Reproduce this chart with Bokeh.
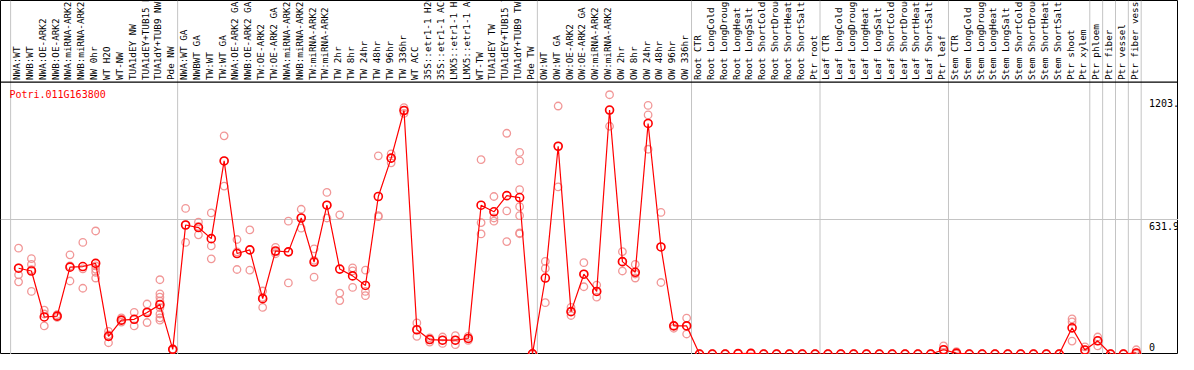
import math
from bokeh.plotting import figure
from bokeh.models import Range1d, Span, Label, ColumnDataSource
from bokeh.core.properties import value
from bokeh.embed import file_html
from bokeh.resources import INLINE

gene = "Potri.011G163800"

categories = [
    "NWA:WT", "NWB:WT", "NWA:OE-ARK2", "NWB:OE-ARK2", "NWA:miRNA-ARK2", "NWB:miRNA-ARK2",
    "NW 0hr", "WT H2O", "WT-NW", "TUA1dEY NW", "TUA1dEY+TUB15 NW", "TUA1dY+TUB9 NW", "Pde NW",
    "NWA:WT GA", "NWBWT GA", "TW:WT", "TW:WT GA", "NWA:OE-ARK2 GA", "NWB:OE-ARK2 GA",
    "TW:OE-ARK2", "TW:OE-ARK2 GA", "NWA:miRNA-ARK2", "NWB:miRNA-ARK2", "TW:miRNA-ARK2",
    "TW:miRNA-ARK2", "TW 2hr", "TW 8hr", "TW 24hr", "TW 48hr", "TW 96hr", "TW 336hr",
    "WT ACC", "35S::etr1-1 H2O", "35S::etr1-1 ACC", "LMX5::etr1-1 H2O", "LMX5::etr1-1 ACC",
    "WT-TW", "TUA1dEY TW", "TUA1dEY+TUB15 TW", "TUA1dY+TUB9 TW", "Pde TW",
    "OW:WT", "OW:WT GA", "OW:OE-ARK2", "OW:OE-ARK2 GA", "OW:miRNA-ARK2", "OW:miRNA-ARK2",
    "OW 2hr", "OW 8hr", "OW 24hr", "OW 48hr", "OW 96hr", "OW 336hr",
    "Root CTR", "Root LongCold", "Root LongDrought", "Root LongHeat", "Root LongSalt",
    "Root ShortCold", "Root ShortDrought", "Root ShortHeat", "Root ShortSalt", "Ptr root",
    "Leaf CTR", "Leaf LongCold", "Leaf LongDrought", "Leaf LongHeat", "Leaf LongSalt",
    "Leaf ShortCold", "Leaf ShortDrought", "Leaf ShortHeat", "Leaf ShortSalt", "Ptr leaf",
    "Stem CTR", "Stem LongCold", "Stem LongDrought", "Stem LongHeat", "Stem LongSalt",
    "Stem ShortCold", "Stem ShortDrought", "Stem ShortHeat", "Stem ShortSalt", "Ptr shoot",
    "Ptr xylem",
    "Ptr phloem", "Ptr fiber", "Ptr vessel", "Ptr fiber vessel",
]

means = [
    403, 390, 174, 178, 408, 411, 426, 83, 159, 163, 195, 232, 22,
    606, 594, 542, 907, 472, 489, 260, 484, 480, 639, 432, 699, 399, 367, 322,
    740, 920, 1144, 114, 68, 65, 65, 73, 699, 668, 744, 735, 1,
    357, 976, 199, 375, 294, 1146, 434, 384, 1083, 503, 132, 132,
    0, 0, 0, 2, 3, 0, 0, 0, 0, 0,
    0, 0, 0, 0, 0, 0, 0, 0, 0, 20,
    4, 0, 0, 0, 0, 0, 0, 0, 0, 123, 19,
    62, 0, 0, 5,
]

replicates = [
    [497, 404, 372, 339], [448, 421, 396, 294], [206, 188, 132], [185, 178, 172],
    [466, 414, 343], [524, 400, 309], [578, 414, 399, 384, 357], [106, 90, 53],
    [170, 158, 150], [196, 163, 132], [235, 200, 148],
    [349, 283, 267, 249, 218, 188, 170, 159], [22, 20, 24],
    [684, 606, 524], [620, 600, 560], [663, 508, 447], [1025, 907, 789],
    [538, 480, 397], [583, 489, 394], [296, 266, 219], [501, 480, 471],
    [624, 480, 334], [680, 640, 591], [494, 440, 361], [759, 699, 639],
    [654, 286, 251], [405, 391, 313], [394, 294, 274], [931, 650, 645],
    [940, 920, 898], [1157, 1144, 1130], [146, 113, 83], [76, 68, 56],
    [80, 65, 50], [86, 65, 44], [83, 73, 64], [913, 617, 564], [740, 639, 624],
    [1037, 672, 528], [947, 907, 772, 692, 650, 569, 565], [0, 1, 2],
    [435, 402, 241], [1165, 976, 785], [219, 199, 181], [429, 375, 316],
    [324, 294, 267], [1218, 1146, 1070], [481, 434, 390], [421, 376, 357],
    [1168, 1123, 962], [665, 503, 336], [134, 132, 121], [169, 132, 94],
    [0, 0, 0], [0, 0, 0], [0, 0, 0], [2, 3, 1], [3, 4, 2], [0, 0, 0], [0, 0, 0],
    [0, 0, 0], [0, 0, 0], [0, 0, 0],
    [0, 0, 0], [0, 0, 0], [0, 0, 0], [0, 0, 0], [0, 0, 0], [0, 0, 0], [0, 0, 0],
    [0, 0, 0], [0, 0, 0], [38, 20, 8],
    [11, 4, 0], [0, 0, 0], [0, 0, 0], [0, 0, 0], [0, 0, 0], [0, 0, 0], [0, 0, 0],
    [0, 0, 0], [0, 0, 0], [165, 151, 61], [34, 19, 8],
    [80, 62, 38], [0, 0, 0], [0, 0, 0], [20, 5, 0],
]

group_starts = [0, 13, 41, 53, 63, 73, 84, 85, 86, 87, 88]
y_ticks = [0, 631.9, 1203.4]
y_tick_labels = ["0", "631.9", "1203.4"]

# ---- layout constants ----
W, H = 1178, 354
px_per_unit = 0.2219
ref_h = 369.0
zero_px = 368.5
plot_top = (zero_px - 85) / px_per_unit
y_lo = (zero_px - ref_h) / px_per_unit
y_hi = zero_px / px_per_unit
x_lo = (1 - 19.3) / 13.0
x_hi = (1193 - 19.3) / 13.0

p = figure(width=W, height=H, output_backend="svg", toolbar_location=None,
           x_range=Range1d(x_lo, x_hi), y_range=Range1d(y_lo, y_hi),
           x_axis_type=None, y_axis_type=None, min_border=0,
           background_fill_color="white", border_fill_color="white")
p.outline_line_color = "black"
p.outline_line_width = 1

grid_gray = "#c4c4c4"
for g in group_starts:
    p.add_layout(Span(location=g - 0.62, dimension="height", line_color=grid_gray,
                      line_width=1, level="underlay"))
p.add_layout(Span(location=y_ticks[1], dimension="width", line_color=grid_gray,
                  line_width=1, level="underlay"))
p.add_layout(Span(location=plot_top, dimension="width", line_color="black",
                  line_width=1.2))

# category labels (rotated)
xs = list(range(len(categories)))
lab_src = ColumnDataSource(dict(x=xs, y=[plot_top] * len(categories), t=categories))
p.text(x="x", y="y", text="t", source=lab_src, angle=math.pi / 2,
       text_align="left", text_baseline="middle", x_offset=-2, y_offset=-2,
       text_font=value("DejaVu Sans Mono"), text_font_size="9.3px", text_color="black")

# replicates
rx, ry = [], []
for i, reps in enumerate(replicates):
    for v in reps:
        rx.append(i)
        ry.append(v)
p.scatter(rx, ry, marker="circle", size=7.5, fill_color=None,
          line_color="#f08c8c", line_width=1.3, line_alpha=0.9)

# mean line and points
p.line(xs, means, line_color="red", line_width=1.2)
p.scatter(xs, means, marker="circle", size=8, fill_color=None,
          line_color="red", line_width=1.6)

# gene title
p.add_layout(Label(x=-0.715, y=(zero_px - 92.7) / px_per_unit, text=gene,
                   text_color="red", text_font="DejaVu Sans Mono",
                   text_font_size="10px", text_baseline="top"))

# y tick labels inside frame
tx = group_starts[-1] - 0.62 + 0.6
p.text(x=[tx], y=[y_ticks[2]], text=[y_tick_labels[2]], text_baseline="top",
       y_offset=1, text_font=value("DejaVu Sans Mono"), text_font_size="10px",
       text_color="black")
p.text(x=[tx], y=[y_ticks[1]], text=[y_tick_labels[1]], text_baseline="top",
       y_offset=2, text_font=value("DejaVu Sans Mono"), text_font_size="10px",
       text_color="black")
p.text(x=[tx], y=[y_ticks[0]], text=[y_tick_labels[0]], text_baseline="bottom",
       y_offset=-3, text_font=value("DejaVu Sans Mono"), text_font_size="10px",
       text_color="black")

open("out.html", "w").write(file_html(p, INLINE))
